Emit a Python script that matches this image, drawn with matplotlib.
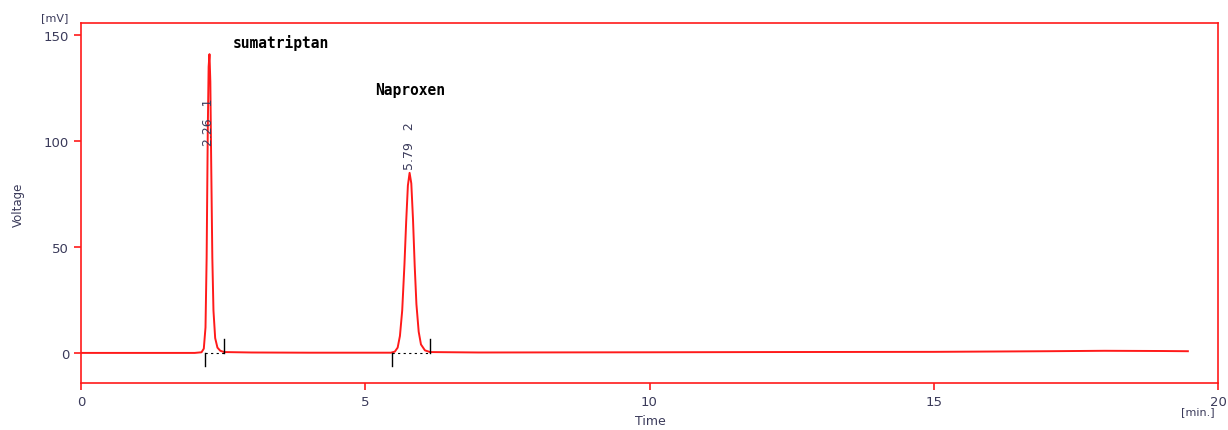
import matplotlib.pyplot as plt

# chromatogram trace (time in min, voltage in mV)
time = [0.0, 1.0, 2.0, 2.12, 2.16, 2.19, 2.21, 2.23, 2.245, 2.26, 2.275, 2.29,
        2.31, 2.33, 2.36, 2.40, 2.45, 2.52, 3.0, 4.0, 5.0, 5.45, 5.52, 5.57,
        5.61, 5.65, 5.69, 5.72, 5.75, 5.78, 5.81, 5.84, 5.87, 5.90, 5.94, 5.98,
        6.05, 6.14, 7.0, 10.0, 12.0, 15.0, 17.0, 18.0, 19.0, 19.47]
voltage = [0.0, 0.0, 0.0, 0.3, 2.0, 12.0, 45.0, 105.0, 135.0, 141.0, 128.0, 90.0,
           45.0, 20.0, 7.0, 2.5, 1.0, 0.4, 0.2, 0.1, 0.1, 0.1, 0.6, 2.5,
           8.0, 20.0, 42.0, 62.0, 79.0, 85.0, 80.0, 63.0, 41.0, 23.0, 10.0, 4.0,
           1.2, 0.4, 0.2, 0.3, 0.4, 0.5, 0.8, 1.0, 0.9, 0.8]

peak_rt = [2.26, 5.79]
peak_num = ["1", "2"]
peak_label_y = [98, 87]
peak_start = [2.18, 5.47]
peak_end = [2.52, 6.14]
compound = ["sumatriptan", "Naproxen"]
compound_pos = [(2.67, 143), (5.17, 121)]

red = "#ff1a1a"
tick_col = "#3a3a5a"

fig = plt.figure(figsize=(12.28, 4.31), dpi=100)
ax = fig.add_axes([81 / 1228, 1 - 384 / 431, (1218 - 81) / 1228, (384 - 24) / 431])

ax.plot(time, voltage, color=red, lw=1.4)

# integration baseline and start/end marks
for s, e in zip(peak_start, peak_end):
    ax.plot([s, e], [0, 0], color="black", lw=0.8, ls=(0, (2, 3)))
    ax.plot([s, s], [-6, 0], color="black", lw=1)
    ax.plot([e, e], [0, 6.5], color="black", lw=1)

for rt, n, y in zip(peak_rt, peak_num, peak_label_y):
    ax.text(rt - 0.02, y, f"{rt:.2f}   {n}", rotation=90,
            ha="center", va="bottom", fontsize=9, color=tick_col)

for name, (x, y) in zip(compound, compound_pos):
    ax.text(x, y, name, fontsize=10.5, fontweight="bold", family="DejaVu Sans Mono",
            va="bottom", ha="left")

ax.set_xlim(0, 20)
ax.set_ylim(-14.2, 155.7)
ax.set_xticks([0, 5, 10, 15, 20])
ax.set_yticks([0, 50, 100, 150])
for sp in ax.spines.values():
    sp.set_color(red)
    sp.set_linewidth(1.2)
ax.tick_params(axis="both", colors=red, labelcolor=tick_col, labelsize=9.5,
               length=5, width=1.2, direction="out")

# axis titles placed where the reference has them
fig.text(18 / 1228, 1 - 205 / 431, "Voltage", fontsize=8.5, color=tick_col,
         rotation=90, ha="center", va="center")
fig.text(650 / 1228, 1 - 422 / 431, "Time", fontsize=9, color=tick_col,
         ha="center", va="center")
fig.text(55 / 1228, 1 - 18 / 431, "[mV]", fontsize=8, color=tick_col, ha="center", va="center")
fig.text(1198 / 1228, 1 - 412 / 431, "[min.]", fontsize=8, color=tick_col, ha="center", va="center")

fig.savefig("out.png", dpi=100)
